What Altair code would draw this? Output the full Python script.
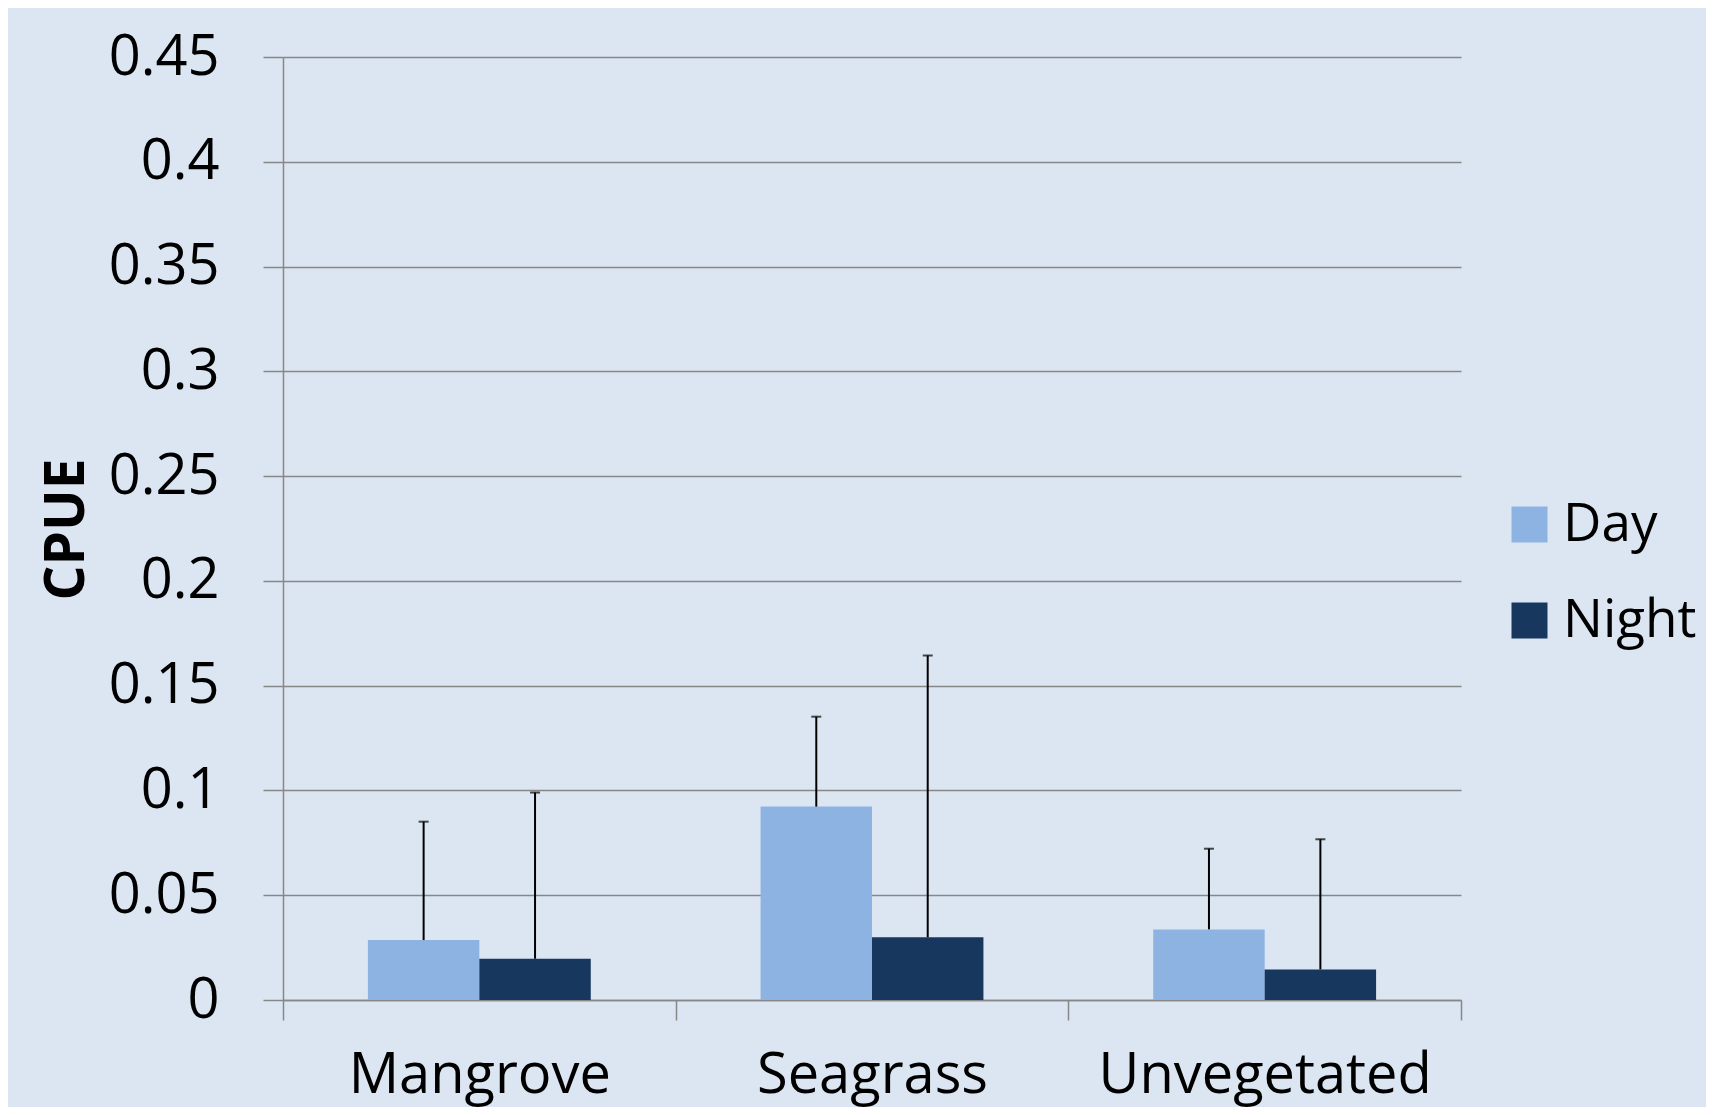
import altair as alt
import pandas as pd

categories = ["Mangrove", "Seagrass", "Unvegetated"]
periods = ["Day", "Night"]
day_mean = [0.0286, 0.0923, 0.0337]
night_mean = [0.0197, 0.0299, 0.0146]
day_upper = [0.0851, 0.1352, 0.0722]
night_upper = [0.0990, 0.1644, 0.0767]
y_ticks = [0, 0.05, 0.1, 0.15, 0.2, 0.25, 0.3, 0.35, 0.4, 0.45]
colors = ["#8DB3E2", "#17375E"]

rows = []
for i, c in enumerate(categories):
    rows.append({"Habitat": c, "Period": "Day", "CPUE": day_mean[i], "Upper": day_upper[i]})
    rows.append({"Habitat": c, "Period": "Night", "CPUE": night_mean[i], "Upper": night_upper[i]})
df = pd.DataFrame(rows)

FONT = "Open Sans"
GRID = "#878787"

x = alt.X(
    "Habitat:N", sort=categories,
    scale=alt.Scale(paddingInner=0, paddingOuter=0),
    axis=alt.Axis(title=None, tickBand="extent", tickSize=20, tickColor=GRID, tickWidth=1.5,
                  domainColor=GRID, domainWidth=1.5, labelFontSize=56, labelFont=FONT,
                  labelColor="black", labelBaseline="alphabetic", labelPadding=72,
                  labelAngle=0, labelLimit=0, grid=False),
)
xo = alt.XOffset("Period:N", sort=periods, scale=alt.Scale(paddingInner=0, paddingOuter=0.762))
y = alt.Y(
    "CPUE:Q",
    scale=alt.Scale(domain=[0, 0.45], nice=False, zero=True),
    axis=alt.Axis(values=y_ticks, format="~g", tickSize=20, tickColor=GRID, tickWidth=1.5,
                  domainColor=GRID, domainWidth=1.5, grid=True, gridColor=GRID, gridWidth=1.5,
                  labelFontSize=56, labelFont=FONT, labelColor="black", labelPadding=44,
                  title="CPUE", titleFont=FONT, titleFontSize=55, titleFontWeight="bold",
                  titleColor="black", titleAngle=270, titleX=-217, titleY=472,
                  titleAlign="center", titleBaseline="middle"),
)
color = alt.Color(
    "Period:N", sort=periods, scale=alt.Scale(domain=periods, range=colors),
    legend=alt.Legend(title=None, orient="none", legendX=1220, legendY=441,
                      symbolType="square", symbolSize=1296, symbolStrokeWidth=0,
                      labelFontSize=53, labelFont=FONT, labelColor="black", labelLimit=0,
                      labelOffset=7, rowPadding=42),
)

base = alt.Chart(df)
bars = base.mark_bar().encode(x=x, xOffset=xo, y=y, color=color)
err = base.mark_rule(color="black", strokeWidth=2).encode(x=x, xOffset=xo, y="CPUE:Q", y2="Upper:Q")
cap = base.mark_tick(color="black", thickness=2, size=10).encode(x=x, xOffset=xo, y="Upper:Q")

chart = alt.layer(bars, err, cap).properties(
    width=1178, height=943,
    autosize=alt.AutoSizeParams(type="none"),
    padding={"left": 275, "top": 49, "right": 245, "bottom": 107},
    background="#DCE6F2",
).configure_view(strokeWidth=0)

chart.save("out.html", embed_options={"renderer": "svg", "actions": False})
